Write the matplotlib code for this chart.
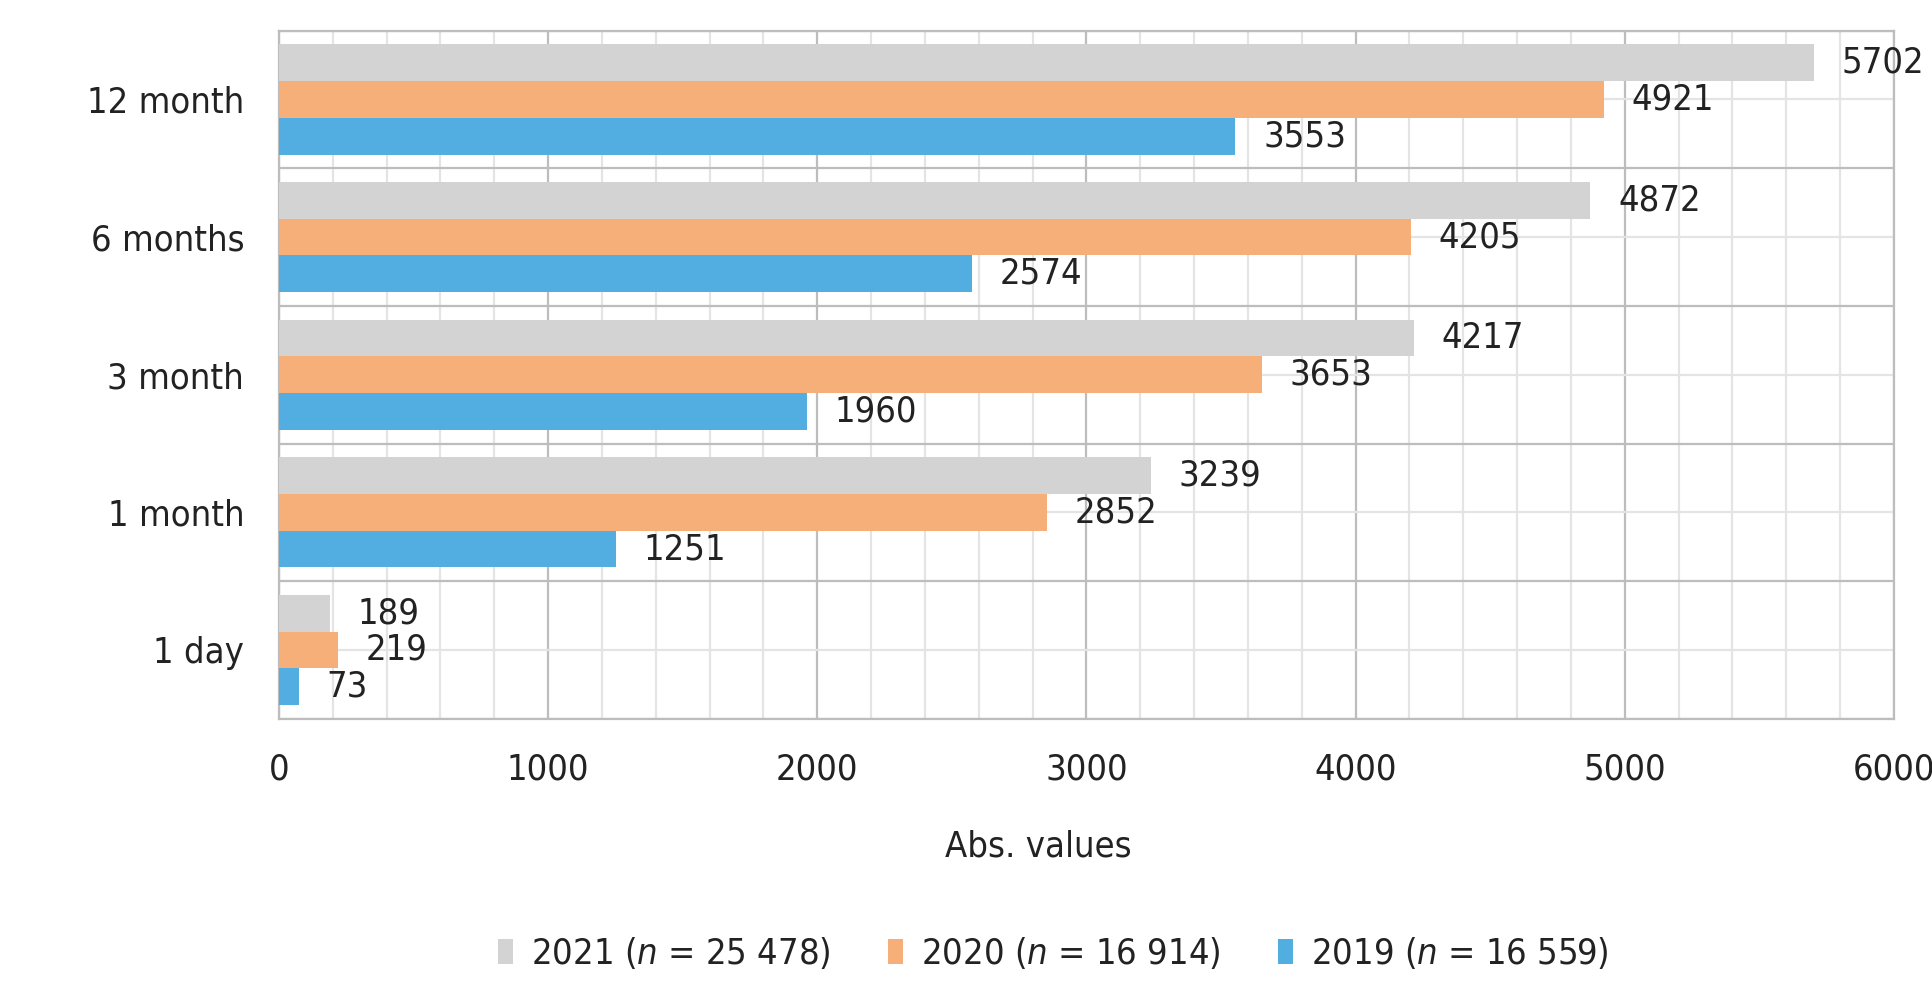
import matplotlib
matplotlib.use("Agg")
import matplotlib.pyplot as plt
import numpy as np
from matplotlib.ticker import MultipleLocator, FixedLocator

plt.rcParams['font.family'] = ['DejaVu Sans']
plt.rcParams['font.stretch'] = 'condensed'
plt.rcParams['mathtext.fontset'] = 'custom'
plt.rcParams['mathtext.it'] = 'DejaVu Sans:italic'
plt.rcParams['mathtext.rm'] = 'DejaVu Sans'

categories = ['1 day', '1 month', '3 month', '6 months', '12 month']
v2021 = [189, 3239, 4217, 4872, 5702]
v2020 = [219, 2852, 3653, 4205, 4921]
v2019 = [73, 1251, 1960, 2574, 3553]
series_labels = ['2021 ($\\it{n}$ = 25 478)', '2020 ($\\it{n}$ = 16 914)', '2019 ($\\it{n}$ = 16 559)']
colors = ['#D3D3D3', '#F6AF78', '#52ADE0']
text_col = '#222222'
FS = 26

fig = plt.figure(figsize=(19.33, 9.86), dpi=100)
ax = fig.add_axes([0.1443, 0.271, 0.8355, 0.698])

y = np.arange(len(categories))
h = 0.267
offs = [h, 0, -h]
for vals, off, col, lab in zip([v2021, v2020, v2019], offs, colors, series_labels):
    bars = ax.barh(y + off, vals, height=h, color=col, label=lab, zorder=3)
    for b, v in zip(bars, vals):
        ax.annotate(str(v), (b.get_width(), b.get_y() + b.get_height() / 2),
                    xytext=(20, 0), textcoords='offset points',
                    va='center', ha='left', fontsize=FS, color=text_col, zorder=4)

ax.set_xlim(0, 6000)
ax.set_ylim(-0.5, len(categories) - 0.5)
ax.xaxis.set_major_locator(MultipleLocator(1000))
ax.xaxis.set_minor_locator(MultipleLocator(200))
ax.set_yticks(y)
ax.set_yticklabels(categories)
ax.yaxis.set_minor_locator(FixedLocator(np.arange(-0.5, len(categories), 1.0)))

ax.grid(which='major', axis='x', color='#BDBDBD', linewidth=1.6, zorder=0)
ax.grid(which='minor', axis='x', color='#E4E4E4', linewidth=1.6, zorder=0)
ax.grid(which='major', axis='y', color='#E4E4E4', linewidth=1.6, zorder=0)
ax.grid(which='minor', axis='y', color='#BDBDBD', linewidth=1.6, zorder=0)
for s in ax.spines.values():
    s.set_color('#BDBDBD')
    s.set_linewidth(1.6)

ax.tick_params(which='both', length=0)
ax.tick_params(axis='x', pad=24, labelsize=FS, labelcolor=text_col)
ax.tick_params(axis='y', pad=25, labelsize=FS, labelcolor=text_col)

fig.text(0.537, 0.141, 'Abs. values', ha='center', va='center', fontsize=FS, color=text_col)

leg = fig.legend(loc='center', bbox_to_anchor=(0.545, 0.033), ncol=3, frameon=False,
                 fontsize=FS, handlelength=0.4, handleheight=0.7, handletextpad=0.5,
                 columnspacing=1.6)
for t in leg.get_texts():
    t.set_color(text_col)

fig.savefig('out.png', dpi=100)
